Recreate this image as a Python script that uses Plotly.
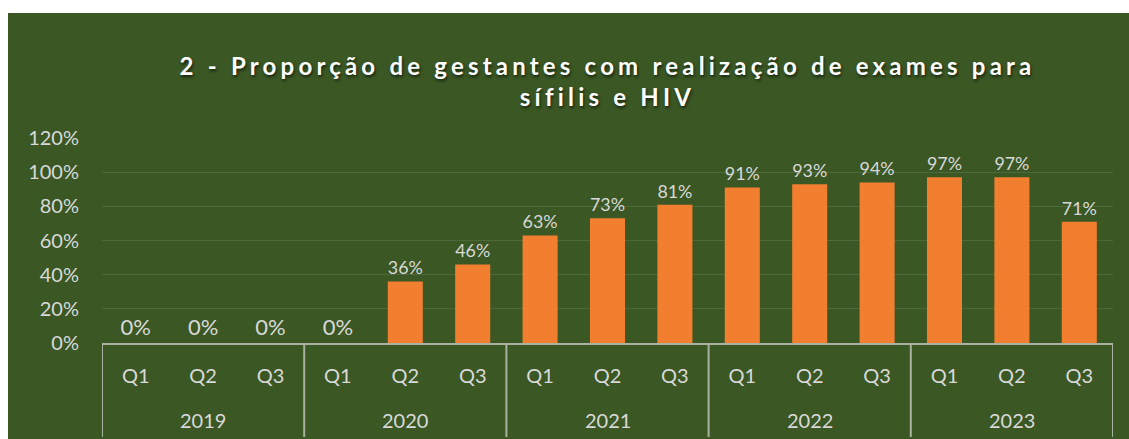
import plotly.graph_objects as go

years = ["2019", "2020", "2021", "2022", "2023"]
quarters = ["Q1", "Q2", "Q3"]
values = [0, 0, 0, 0, 36, 46, 63, 73, 81, 91, 93, 94, 97, 97, 71]
y_ticks = [0, 20, 40, 60, 80, 100, 120]
title = "2 - Proporção de gestantes com realização de exames para<br>sífilis e HIV"

x_keys = [f"{y} {q}" for y in years for q in quarters]
x_ticktext = [q for y in years for q in quarters]
labels = [f"{v}%" for v in values]
y_tick_text = [f"{t}%" for t in y_ticks]

BG = "#3A5724"
TXT = "#D9D9D9"
LINE = "#A9B2A1"
FONT = "Lato, Open Sans, sans-serif"

fig = go.Figure(go.Bar(
    x=x_keys,
    y=values,
    text=labels,
    textposition="outside",
    textfont=dict(color=TXT, size=22, family=FONT),
    cliponaxis=False,
    marker=dict(color="#F27E30", line=dict(width=0)),
    hoverinfo="skip",
))

W, H = 1129, 439
L, R, T, B = 102, 16, 138, 96
pw = W - L - R
ph = H - T - B

n_q = len(quarters)
shapes = []
for i in range(len(years) + 1):
    xb = i * n_q - 0.5
    shapes.append(dict(type="line", xref="x", yref="paper", x0=xb, x1=xb,
                       y0=0, y1=-94 / ph, line=dict(color=LINE, width=2), layer="above"))
# white page margins (left 8px, top 13px)
shapes.append(dict(type="rect", xref="paper", yref="paper",
                   x0=-(L + 5) / pw, x1=(8 - L) / pw, y0=-(B + 5) / ph, y1=(ph + T + 5) / ph,
                   fillcolor="white", line=dict(width=0), layer="above"))
shapes.append(dict(type="rect", xref="paper", yref="paper",
                   x0=-(L + 5) / pw, x1=(pw + R + 5) / pw, y0=(ph + T - 13) / ph, y1=(ph + T + 5) / ph,
                   fillcolor="white", line=dict(width=0), layer="above"))

annotations = []
for i, y in enumerate(years):
    annotations.append(dict(text=y, xref="x", yref="paper", x=i * n_q + (n_q - 1) / 2,
                            y=-77 / ph, yanchor="middle", xanchor="center", showarrow=False,
                            font=dict(size=20, color=TXT, family=FONT)))

fig.update_layout(
    width=W, height=H,
    margin=dict(l=L, r=R, t=T, b=B, pad=0),
    paper_bgcolor=BG,
    plot_bgcolor=BG,
    bargap=0.48,
    showlegend=False,
    title=dict(
        text=title,
        x=0.5, xref="paper", xanchor="center",
        y=1 - 75 / H, yref="container", yanchor="top",
        font=dict(family=FONT, size=24, color="#FFFFFF", weight="bold",
                  shadow="1px 2px 3px rgba(0,0,0,0.6)"),
    ),
    font=dict(family=FONT, color=TXT, size=20),
    xaxis=dict(
        type="category",
        tickvals=x_keys, ticktext=x_ticktext,
        range=[-0.5, len(x_keys) - 0.5],
        showline=True, linecolor=LINE, linewidth=2,
        ticks="", ticklabelstandoff=14,
        tickfont=dict(size=20, color=TXT, family=FONT),
        showgrid=False,
    ),
    yaxis=dict(
        range=[0, 120], tickvals=y_ticks, ticktext=y_tick_text,
        showgrid=True, gridcolor="#4E6A3C", gridwidth=1,
        zeroline=False, showline=False, ticks="",
        ticklabelstandoff=22,
        tickfont=dict(size=20, color=TXT, family=FONT),
    ),
    shapes=shapes,
    annotations=annotations,
)

post = ("document.body.style.margin='0';document.body.style.overflow='hidden';"
        "var gd=document.getElementById('{plot_id}');"
        "gd.querySelectorAll('text.gtitle').forEach(function(t){t.style.letterSpacing='4.2px';});")
fig.write_html("out.html", post_script=post, config={"displayModeBar": False})
